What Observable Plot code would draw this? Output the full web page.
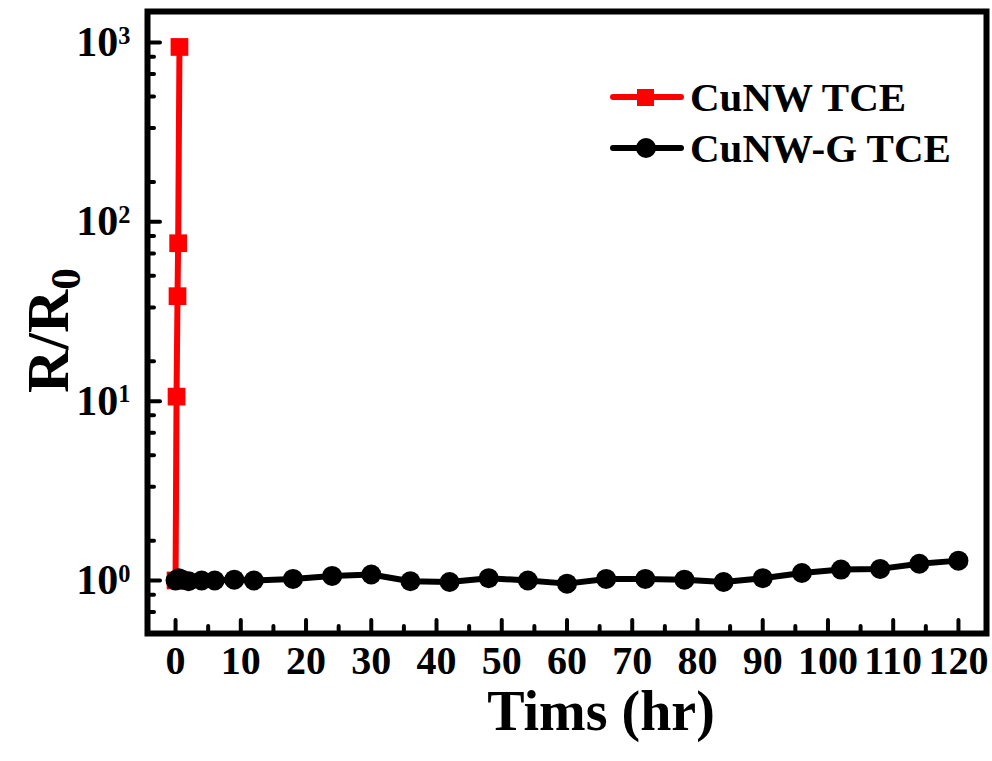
<!DOCTYPE html>
<html><head><meta charset="utf-8">
<script src="https://cdn.jsdelivr.net/npm/d3@7"></script>
<script src="https://cdn.jsdelivr.net/npm/@observablehq/plot@0.6"></script>
<style>
body{margin:0;background:#fff;}
#wrap{position:relative;width:992px;height:761px;font-family:"Liberation Serif","Times New Roman",serif;}
.lg{position:absolute;left:610px;display:flex;align-items:center;font-weight:bold;font-size:41px;color:#000;line-height:1;}
.lg svg{margin-right:6px;}
</style>
</head><body><div id="wrap"></div>
<script>
// CuNW TCE (red squares)
const cunwTime = [0, 0.15, 0.3, 0.4, 0.6];
const cunwRatio = [1.0, 10.6, 38.5, 76, 945];
// CuNW-G TCE (black circles)
const cunwgTime = [0, 0.5, 1, 2, 4, 6, 9, 12, 18, 24, 30, 36, 42, 48, 54, 60, 66, 72, 78, 84, 90, 96, 102, 108, 114, 120];
const cunwgRatio = [1.0, 1.03, 1.01, 0.99, 1.0, 1.0, 1.01, 1.0, 1.02, 1.06, 1.08, 0.99, 0.98, 1.03, 1.0, 0.96, 1.02, 1.02, 1.01, 0.98, 1.03, 1.10, 1.15, 1.16, 1.24, 1.29];
const seriesNames = ["CuNW TCE", "CuNW-G TCE"];
const seriesColors = ["#ff0000", "#000000"];
// ticks
const xMajor = [0, 10, 20, 30, 40, 50, 60, 70, 80, 90, 100, 110, 120];
const xMinor = [5, 15, 25, 35, 45, 55, 65, 75, 85, 95, 105, 115];
const yMajor = [1, 10, 100, 1000];
const yMinor = [0.6667, 0.8333, 1.667, 3.333, 5, 6.667, 8.333, 16.67, 33.33, 50, 66.67, 83.33, 166.7, 333.3, 500, 666.7, 833.3];
const xTitle = "Tims (hr)";
const yTitle = "R/R0";

const W = 992, H = 761;
const mL = 147, mR = 6, mT = 11, mB = 128;
const plotW = W - mL - mR, plotH = H - mT - mB;

const red = cunwTime.map((t, i) => ({t, r: cunwRatio[i]}));
const blk = cunwgTime.map((t, i) => ({t, r: cunwgRatio[i]}));

const svg = Plot.plot({
  width: W, height: H,
  marginLeft: mL, marginRight: mR, marginTop: mT, marginBottom: mB,
  style: {fontFamily: "'Liberation Serif','Times New Roman',serif", background: "#fff", color: "#000"},
  x: {domain: [-4.3, 124.3], label: null},
  y: {type: "log", domain: [0.506, 1490], label: null},
  marks: [
    Plot.tickX(xMajor, {x: d => d, insetTop: plotH - 13, stroke: "#000", strokeWidth: 4, strokeLinecap: "round"}),
    Plot.tickX(xMinor, {x: d => d, insetTop: plotH - 7, stroke: "#000", strokeWidth: 4, strokeLinecap: "round"}),
    Plot.tickY(yMajor, {y: d => d, insetRight: plotW - 13, stroke: "#000", strokeWidth: 4, strokeLinecap: "round"}),
    Plot.tickY(yMinor, {y: d => d, insetRight: plotW - 7, stroke: "#000", strokeWidth: 4, strokeLinecap: "round"}),
    Plot.axisX({ticks: xMajor, tickSize: 0, tickPadding: 12, fontSize: 40, fontWeight: "bold", tickFormat: d => String(d)}),
    Plot.axisY({ticks: yMajor, tickSize: 0, tickPadding: 17, fontSize: 42, fontWeight: "bold", tickFormat: d => "10^" + Math.round(Math.log10(d))}),
    Plot.line(red, {x: "t", y: "r", stroke: seriesColors[0], strokeWidth: 6}),
    Plot.dot(red, {x: "t", y: "r", symbol: "square", r: 10, fill: seriesColors[0], stroke: "none"}),
    Plot.line(blk, {x: "t", y: "r", stroke: seriesColors[1], strokeWidth: 6}),
    Plot.dot(blk, {x: "t", y: "r", symbol: "circle", r: 10, fill: seriesColors[1], stroke: "none"}),
    Plot.frame({stroke: "#000", strokeWidth: 6}),
    Plot.text([xTitle], {frameAnchor: "bottom", textAnchor: "middle", dx: 34, dy: 96, fontSize: 56, fontWeight: "bold", fill: "#000"}),
    Plot.text([yTitle], {frameAnchor: "left", textAnchor: "middle", dx: -99, dy: 8, rotate: -90, fontSize: 60, fontWeight: "bold", fill: "#000"})
  ]
});

// superscripts / subscripts
d3.select(svg).selectAll("text").each(function() {
  const el = d3.select(this);
  const s = this.textContent;
  if (/^10\^-?\d+$/.test(s)) {
    const e = s.split("^")[1];
    el.text(null);
    el.append("tspan").text("10");
    el.append("tspan").attr("dy", "-0.5em").attr("font-size", "0.58em").text(e);
  } else if (s === yTitle) {
    el.text(null);
    el.append("tspan").text("R/R");
    el.append("tspan").attr("dy", "0.28em").attr("font-size", "0.72em").text("0");
  }
});

const wrap = document.getElementById("wrap");
wrap.appendChild(svg);

// legend
const legendTops = [75, 126];
seriesNames.forEach((name, i) => {
  const row = document.createElement("div");
  row.className = "lg";
  row.style.top = legendTops[i] + "px";
  const sym = i === 0
    ? `<rect x="27" y="-8" width="17" height="17" fill="${seriesColors[i]}"/>`
    : `<circle cx="36" cy="0" r="10" fill="${seriesColors[i]}"/>`;
  row.innerHTML = `<svg width="74" height="44" viewBox="0 -22 74 44"><line x1="3" x2="71" y1="0" y2="0" stroke="${seriesColors[i]}" stroke-width="6" stroke-linecap="round"/>${sym}</svg><span>${name}</span>`;
  wrap.appendChild(row);
});
</script>
</body></html>
